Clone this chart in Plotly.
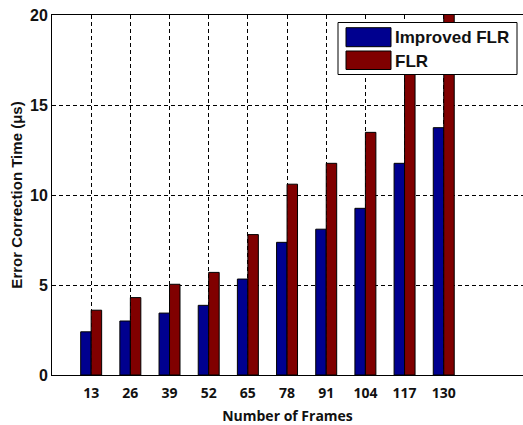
import plotly.graph_objects as go

# Data
frames = [13, 26, 39, 52, 65, 78, 91, 104, 117, 130]
improved_flr = [2.4, 3.0, 3.44, 3.87, 5.33, 7.37, 8.1, 9.26, 11.76, 13.74]
flr = [3.6, 4.3, 5.04, 5.7, 7.8, 10.6, 11.76, 13.48, 17.3, 20.4]
y_ticks = [0, 5, 10, 15, 20]

series_names = ["Improved FLR", "FLR"]
series_colors = ["#00008F", "#800000"]

fig = go.Figure()
for name, vals, col in zip(series_names, [improved_flr, flr], series_colors):
    fig.add_trace(go.Bar(
        x=frames, y=vals, name=name,
        marker=dict(color=col, line=dict(color="black", width=1)),
        showlegend=False,
    ))

grid_dash = "4px,3px"
fig.update_layout(
    width=523, height=425,
    margin=dict(l=52, r=0, t=15, b=50),
    paper_bgcolor="white", plot_bgcolor="white",
    barmode="group", bargap=0.465, bargroupgap=0,
    xaxis=dict(
        range=[0, 156.3], tickmode="array", tickvals=frames,
        ticktext=[str(f) for f in frames],
        showgrid=True, gridcolor="black", gridwidth=1, griddash=grid_dash,
        showline=True, linecolor="black", linewidth=1, mirror=True,
        ticks="", zeroline=False, ticklabelstandoff=5,
        tickfont=dict(family="Open Sans", size=14, color="#111", weight="bold"),
        title=dict(text="Number of Frames", standoff=14,
                   font=dict(family="Open Sans", size=14, color="#111", weight="bold")),
    ),
    yaxis=dict(
        range=[0, 20], tickmode="array", tickvals=y_ticks,
        showgrid=True, gridcolor="black", gridwidth=1, griddash=grid_dash,
        showline=True, linecolor="black", linewidth=1,
        ticks="", zeroline=False,
        tickfont=dict(family="Liberation Sans", size=16, color="#111", weight="bold"),
        title=dict(text="Error Correction Time (μs)", standoff=3,
                   font=dict(family="Liberation Sans", size=15, color="#111", weight="bold")),
    ),
)

# Legend box drawn on top of the bars
x0, x1, y0, y1 = 338, 517, 22.5, 74.5
W, H, T, L = 523, 425, 15, 52
def px(x):
    return (x - L) / (W - L)
def py(y):
    return 1 - (y - T) / (H - 50 - T)

fig.add_shape(type="rect", xref="paper", yref="paper",
              x0=px(x0), x1=px(x1), y0=py(y1), y1=py(y0),
              fillcolor="white", line=dict(color="black", width=1), layer="above")
swatch_rows = [(27.7, 46.7, 37.5), (51, 69.5, 61.5)]
for (sy0, sy1, ty), name, col in zip(swatch_rows, series_names, series_colors):
    fig.add_shape(type="rect", xref="paper", yref="paper",
                  x0=px(346), x1=px(391), y0=py(sy1), y1=py(sy0),
                  fillcolor=col, line=dict(color="black", width=1), layer="above")
    fig.add_annotation(xref="paper", yref="paper", x=px(393), y=py(ty),
                       text=name, showarrow=False, xanchor="left", yanchor="middle",
                       font=dict(family="Liberation Sans", size=17, color="#111", weight="bold"))

fig.write_html("out.html")
